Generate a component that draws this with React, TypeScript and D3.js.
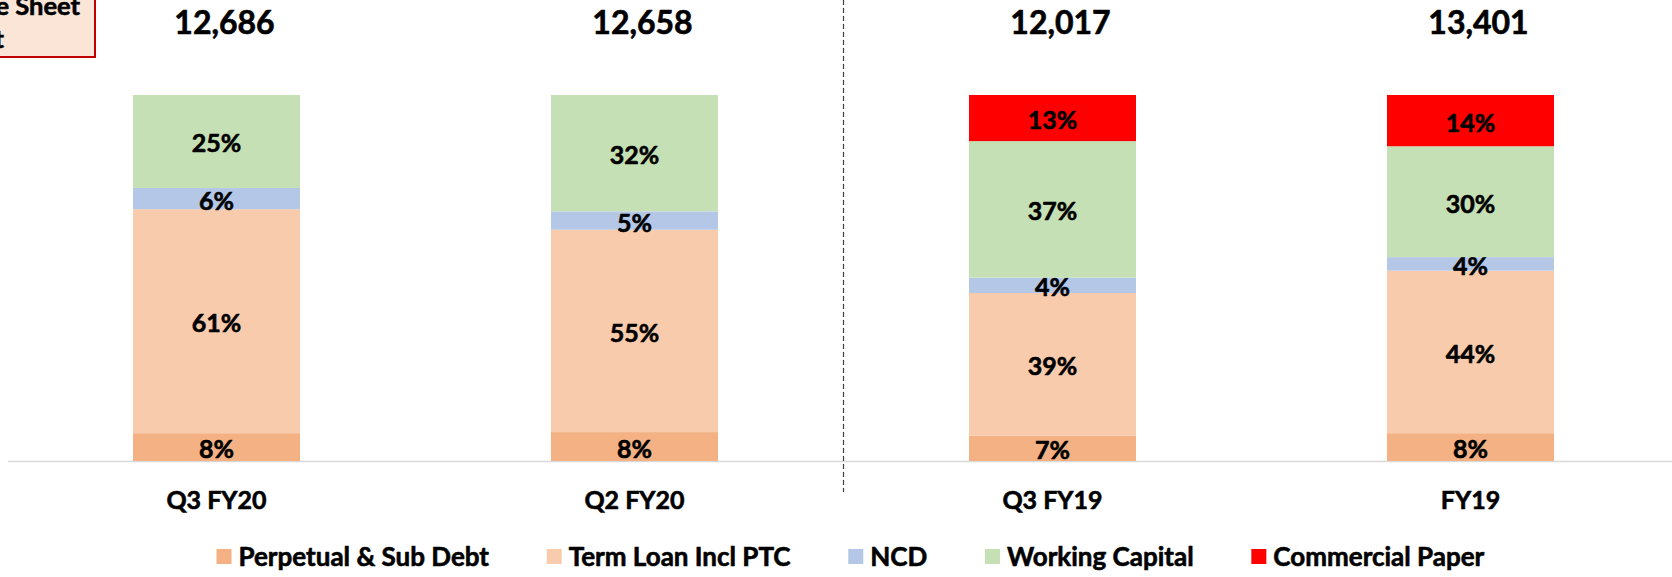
import React, { useEffect, useRef } from "react";
import * as d3 from "d3";

const categories = ["Q3 FY20", "Q2 FY20", "Q3 FY19", "FY19"];
const totals = ["12,686", "12,658", "12,017", "13,401"];
const seriesNames = ["Perpetual & Sub Debt", "Term Loan Incl PTC", "NCD", "Working Capital", "Commercial Paper"];
const seriesColors = ["#F4B183", "#F8CBAD", "#B4C7E7", "#C5E0B4", "#FF0000"];
const perpetualSubDebt = [7.6, 7.9, 6.9, 7.6];
const termLoan = [61.2, 55.3, 39.0, 44.4];
const ncd = [5.8, 5.0, 4.2, 3.7];
const workingCapital = [25.4, 31.8, 37.3, 30.3];
const commercialPaper = [0, 0, 12.6, 14.0];

const W = 1672;
const H = 577;
const FONT = "Lato, 'Open Sans', sans-serif";

export default function App() {
  const ref = useRef<SVGSVGElement | null>(null);

  useEffect(() => {
    const svg = d3.select(ref.current);
    svg.selectAll("*").remove();

    const txt = (sel: any, size: number) =>
      sel.attr("font-family", FONT).attr("font-weight", 700).attr("font-size", size)
        .attr("fill", "#000").attr("stroke", "#000").attr("stroke-width", 0.6)
        .attr("stroke-linejoin", "round");

    const series = [perpetualSubDebt, termLoan, ncd, workingCapital, commercialPaper];
    const rows = categories.map((c, i) => {
      const r: any = { cat: c };
      seriesNames.forEach((s, k) => (r[s] = series[k][i]));
      return r;
    });
    const stack = d3.stack<any>().keys(seriesNames)(rows);

    const x = d3.scalePoint<string>().domain(categories).range([216.5, 1470.5]);
    const bw = 167;
    const y = d3.scaleLinear().domain([0, 100]).range([461, 95]);

    // top-left box
    const box = svg.append("g");
    box.append("rect").attr("x", -10).attr("y", -10).attr("width", 105).attr("height", 67)
      .attr("fill", "#FBE5D6").attr("stroke", "#C00000").attr("stroke-width", 2);
    txt(box.append("text").attr("x", 80).attr("y", 15).attr("text-anchor", "end"), 25.5).text("Balance Sheet");
    txt(box.append("text").attr("x", 4).attr("y", 48).attr("text-anchor", "end"), 25.5).text("Debt");

    // axis line
    svg.append("line").attr("x1", 8).attr("x2", W).attr("y1", y(0) + 0.5).attr("y2", y(0) + 0.5)
      .attr("stroke", "#D9D9D9").attr("stroke-width", 1.5);

    // divider
    const xd = ((x(categories[1]) as number) + (x(categories[2]) as number)) / 2;
    svg.append("line").attr("x1", xd).attr("x2", xd).attr("y1", 0).attr("y2", 492)
      .attr("stroke", "#404040").attr("stroke-width", 1.2).attr("stroke-dasharray", "5,3");

    // bars
    stack.forEach((layer, k) => {
      const g = svg.append("g");
      layer.forEach((d: any) => {
        const v = d[1] - d[0];
        if (v <= 0) return;
        const cx = x(d.data.cat) as number;
        g.append("rect").attr("x", cx - bw / 2).attr("width", bw)
          .attr("y", y(d[1])).attr("height", y(d[0]) - y(d[1]))
          .attr("fill", seriesColors[k]);
        txt(g.append("text").attr("x", cx).attr("y", (y(d[0]) + y(d[1])) / 2 + 1)
          .attr("text-anchor", "middle").attr("dominant-baseline", "central"), 25)
          .text(Math.round(v) + "%");
      });
    });

    // totals and category labels
    categories.forEach((c, i) => {
      txt(svg.append("text").attr("x", (x(c) as number) + 8).attr("y", 34.3)
        .attr("text-anchor", "middle"), 32).text(totals[i]);
      txt(svg.append("text").attr("x", x(c) as number).attr("y", 509.3)
        .attr("text-anchor", "middle"), 25).text(c);
    });

    // legend
    const lg = svg.append("g");
    const items = seriesNames.map((s, k) => {
      const it = lg.append("g");
      it.append("rect").attr("x", 0).attr("y", -8).attr("width", 15).attr("height", 15).attr("fill", seriesColors[k]);
      const t = txt(it.append("text").attr("x", 22).attr("y", 9), 26).text(s);
      const w = (t.node() as SVGTextElement).getComputedTextLength();
      return { it, w: 22 + w };
    });
    const left = 216.5;
    const right = 1484.3;
    const sumW = items.reduce((a, b) => a + b.w, 0);
    const gap = Math.max(30, (right - left - sumW) / (items.length - 1));
    const total = sumW + gap * (items.length - 1);
    let cx = (left + right) / 2 - total / 2;
    items.forEach((o) => {
      o.it.attr("transform", `translate(${cx},557)`);
      cx += o.w + gap;
    });
  }, []);

  return (
    <svg ref={ref} width={W} height={H}
      style={{ position: "absolute", left: 0, top: 0, background: "#fff", display: "block" }} />
  );
}
